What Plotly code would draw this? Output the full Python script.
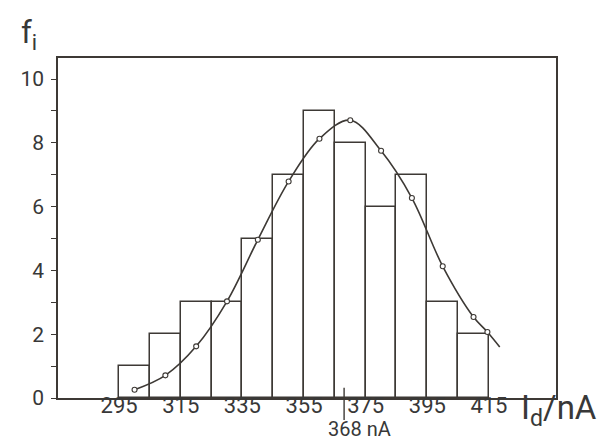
import plotly.graph_objects as go

# Histogram of diffusion currents (bin centres, nA) and frequencies f_i
bin_centers = [300, 310, 320, 330, 340, 350, 360, 370, 380, 390, 400, 410]
bin_width = 10
freq = [1, 2, 3, 3, 5, 7, 9, 8, 6, 7, 3, 2]

# Fitted distribution curve (points marked with open circles, last point = line end)
curve_x = [300, 310, 320, 330, 340, 350, 360, 370, 380, 390, 400, 410, 414.5, 418.5]
curve_f = [0.26, 0.71, 1.62, 3.03, 4.96, 6.79, 8.13, 8.71, 7.75, 6.27, 4.13, 2.54, 2.07, 1.6]
n_marked = 13

x_tickvals = [295, 315, 335, 355, 375, 395, 415]
y_tickvals = [0, 2, 4, 6, 8, 10]
mean_value = 368

INK = "#3d3935"
TXT = "#383838"
FONT = "Roboto, 'DejaVu Sans', sans-serif"

fig = go.Figure()
fig.add_trace(go.Bar(
    x=bin_centers, y=freq, width=[bin_width] * len(freq),
    marker=dict(color="rgba(0,0,0,0)", line=dict(color=INK, width=1.5)),
    hoverinfo="skip",
))
fig.add_trace(go.Scatter(
    x=curve_x, y=curve_f, mode="lines",
    line=dict(color=INK, width=1.6, shape="spline", smoothing=1.0),
    hoverinfo="skip",
))
fig.add_trace(go.Scatter(
    x=curve_x[:n_marked], y=curve_f[:n_marked], mode="markers",
    marker=dict(symbol="circle", size=5, color="white", line=dict(color=INK, width=1.1)),
    hoverinfo="skip",
))

fig.update_layout(
    width=607, height=440,
    margin=dict(l=43, r=59, t=50, b=50),
    paper_bgcolor="white", plot_bgcolor="white",
    showlegend=False, bargap=0,
    font=dict(family=FONT, color=TXT),
    xaxis=dict(
        range=[275.16, 436.76], showgrid=False, zeroline=False,
        showline=True, mirror=True, linecolor=INK, linewidth=1.6,
        tickvals=x_tickvals, ticks="", ticklabelstandoff=-13,
        tickfont=dict(size=22, color=TXT),
    ),
    yaxis=dict(
        range=[0, 10.66], showgrid=False, zeroline=False,
        showline=True, mirror=True, linecolor=INK, linewidth=1.6,
        tickvals=y_tickvals, ticklabelstandoff=3,
        ticks="outside", ticklen=5, tickwidth=1.4, tickcolor=INK,
        minor=dict(dtick=1, ticks="outside", ticklen=5, tickwidth=1.4, tickcolor=INK),
        tickfont=dict(size=21, color=TXT),
    ),
)

# marker line for the mean current
fig.add_shape(type="line", xref="x", yref="paper",
              x0=mean_value, x1=mean_value, y0=0.03, y1=-0.065,
              line=dict(color=INK, width=1.4))
fig.add_annotation(x=mean_value, y=-0.09, xref="x", yref="paper",
                   text=f"{mean_value} nA", showarrow=False,
                   xanchor="left", yanchor="middle", xshift=-18,
                   font=dict(size=20, color=TXT))
# axis titles
fig.add_annotation(x=-0.078, y=1.135, xref="paper", yref="paper",
                   text="f<sub>i</sub>", showarrow=False,
                   xanchor="left", yanchor="top",
                   font=dict(size=31, color=TXT))
fig.add_annotation(x=0.926, y=-0.035, xref="paper", yref="paper",
                   text="I<sub>d</sub>/nA", showarrow=False,
                   xanchor="left", yanchor="middle",
                   font=dict(size=33, color=TXT))

fig.write_html("out.html")
